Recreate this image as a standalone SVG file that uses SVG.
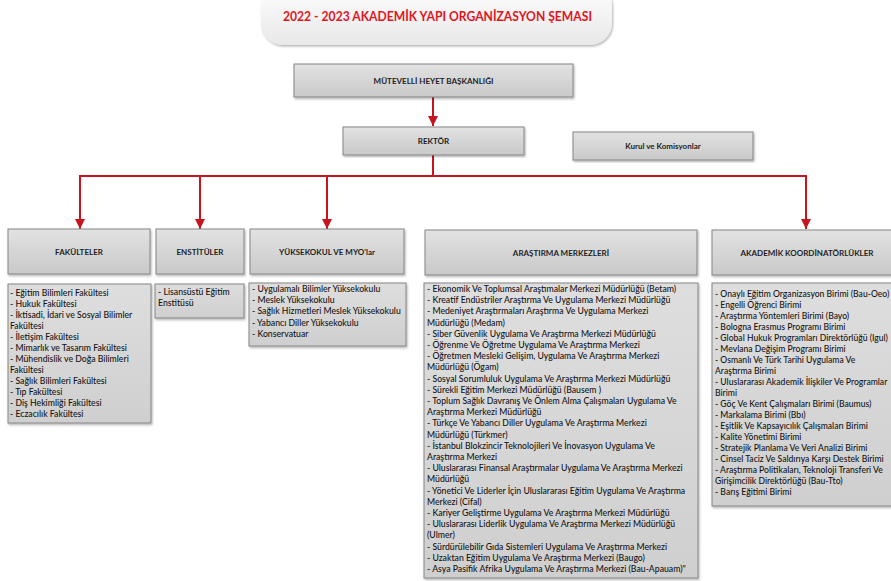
<svg xmlns="http://www.w3.org/2000/svg" width="891" height="581" viewBox="0 0 891 581">
<defs>
<linearGradient id="pill" x1="0" y1="0" x2="0" y2="1"><stop offset="0" stop-color="#ffffff"/><stop offset="1" stop-color="#e8e8e8"/></linearGradient>
<linearGradient id="box" x1="0" y1="0" x2="0" y2="1"><stop offset="0" stop-color="#e2e2e2"/><stop offset="1" stop-color="#c9c9c9"/></linearGradient>
<linearGradient id="list" x1="0" y1="0" x2="0" y2="1"><stop offset="0" stop-color="#dedede"/><stop offset="1" stop-color="#cfcfcf"/></linearGradient>
<filter id="sh" x="-5%" y="-5%" width="110%" height="115%"><feDropShadow dx="1" dy="1.5" stdDeviation="1" flood-color="#000" flood-opacity="0.3"/></filter>
<marker id="ah" viewBox="0 0 10 10" refX="10" refY="5" markerWidth="5" markerHeight="5" orient="auto" markerUnits="strokeWidth"><path d="M0,0 L10,5 L0,10 Z" fill="#c8141e"/></marker>
</defs>
<style>
.b{fill:url(#box);stroke:#858585;stroke-width:1;filter:url(#sh)}
.l{fill:url(#list);stroke:#858585;stroke-width:1;filter:url(#sh)}
.h{font-family:Lato,"Liberation Sans",sans-serif;font-weight:bold;font-size:8px;fill:#1e1e1e;text-anchor:middle}
.t{font-family:Lato,"Liberation Sans",sans-serif;font-weight:500;font-size:8.7px;fill:#141414}
.s{font-size:8.6px}
.c{fill:none;stroke:#c8141e;stroke-width:2}
</style>
<g id="title">
<rect x="261" y="-16" width="351" height="61" rx="22" fill="url(#pill)" filter="url(#sh)"/>
<text x="283" y="21" font-family="Lato,'Liberation Sans',sans-serif" font-weight="bold" font-size="12.8" fill="#e3141e" textLength="309" lengthAdjust="spacingAndGlyphs">2022 - 2023 AKADEMİK YAPI ORGANİZASYON ŞEMASI</text>
</g>
<g id="connectors">
<line class="c" x1="433" y1="97" x2="433" y2="126" marker-end="url(#ah)"/>
<polyline class="c" points="433,155 433,176"/>
<line class="c" x1="79" y1="176" x2="807" y2="176"/>
<line class="c" x1="80" y1="176" x2="80" y2="229" marker-end="url(#ah)"/>
<line class="c" x1="200" y1="176" x2="200" y2="229" marker-end="url(#ah)"/>
<line class="c" x1="327" y1="176" x2="327" y2="229" marker-end="url(#ah)"/>
<line class="c" x1="806" y1="176" x2="806" y2="229" marker-end="url(#ah)"/>
</g>
<g id="mutevelli"><rect class="b" x="294" y="64" width="279" height="33"/><text class="h" x="433.5" y="83.5">MÜTEVELLİ HEYET BAŞKANLIĞI</text></g>
<g id="rektor"><rect class="b" x="343" y="127" width="181" height="28"/><text class="h" x="433.5" y="144">REKTÖR</text></g>
<g id="kurul"><rect class="b" x="573" y="132" width="180" height="28"/><text class="h" x="663" y="149" font-size="8.5">Kurul ve Komisyonlar</text></g>
<g id="fakulteler"><rect class="b" x="8" y="229" width="142" height="45"/><text class="h" x="79" y="254.5">FAKÜLTELER</text></g>
<g id="enstituler"><rect class="b" x="156" y="229" width="88" height="45"/><text class="h" x="200" y="254.5">ENSTİTÜLER</text></g>
<g id="yuksekokul"><rect class="b" x="250" y="229" width="154" height="45"/><text class="h" x="327" y="254.5">YÜKSEKOKUL VE MYO'lar</text></g>
<g id="arastirma"><rect class="b" x="425" y="230" width="272" height="45"/><text class="h" x="561" y="255.5">ARAŞTIRMA MERKEZLERİ</text></g>
<g id="akademik"><rect class="b" x="712" y="230" width="190" height="45"/><text class="h" x="807" y="255.5">AKADEMİK KOORDİNATÖRLÜKLER</text></g>
<g id="fakulteler-list"><rect class="l" x="8" y="284" width="143" height="139"/>
<text class="t" x="10"><tspan x="10" y="296">- Eğitim Bilimleri Fakültesi</tspan><tspan x="10" y="307">- Hukuk Fakültesi</tspan><tspan x="10" y="318">- İktisadi, İdari ve Sosyal   Bilimler</tspan><tspan x="10" y="329">Fakültesi</tspan><tspan x="10" y="340">- İletişim Fakültesi</tspan><tspan x="10" y="351">- Mimarlık ve Tasarım Fakültesi</tspan><tspan x="10" y="362">- Mühendislik ve Doğa Bilimleri</tspan><tspan x="10" y="373">Fakültesi</tspan><tspan x="10" y="384">- Sağlık Bilimleri Fakültesi</tspan><tspan x="10" y="395">- Tıp Fakültesi</tspan><tspan x="10" y="406">- Diş Hekimliği Fakültesi</tspan><tspan x="10" y="417">- Eczacılık Fakültesi</tspan></text></g>
<g id="enstituler-list"><rect class="l" x="155" y="284" width="89" height="34"/>
<text class="t"><tspan x="158" y="295">- Lisansüstü Eğitim</tspan><tspan x="158" y="306">Enstitüsü</tspan></text></g>
<g id="yuksekokul-list"><rect class="l" x="249" y="283" width="157" height="63"/>
<text class="t"><tspan x="252" y="292">- Uygulamalı Bilimler Yüksekokulu</tspan><tspan x="252" y="303">- Meslek Yüksekokulu</tspan><tspan x="252" y="314">- Sağlık Hizmetleri Meslek Yüksekokulu</tspan><tspan x="252" y="325.5">- Yabancı Diller Yüksekokulu</tspan><tspan x="252" y="337">- Konservatuar</tspan></text></g>
<g id="arastirma-list"><rect class="l" x="424" y="283" width="274" height="295"/>
<text class="t"><tspan x="427" y="292">- Ekonomik Ve Toplumsal Araştımalar Merkezi Müdürlüğü (Betam)</tspan><tspan x="427" y="303.2">- Kreatif Endüstriler Araştırma Ve Uygulama Merkezi Müdürlüğü</tspan><tspan x="427" y="314.4">- Medeniyet Araştırmaları Araştırma Ve Uygulama Merkezi</tspan><tspan x="427" y="325.6">Müdürlüğü (Medam)</tspan><tspan x="427" y="336.8">- Siber Güvenlik Uygulama Ve Araştırma Merkezi Müdürlüğü</tspan><tspan x="427" y="348">- Öğrenme Ve Öğretme Uygulama Ve Araştırma Merkezi</tspan><tspan x="427" y="359.2">- Öğretmen Mesleki Gelişim, Uygulama Ve Araştırma Merkezi</tspan><tspan x="427" y="370.4">Müdürlüğü (Ögam)</tspan><tspan x="427" y="381.6">- Sosyal Sorumluluk  Uygulama Ve Araştırma  Merkezi Müdürlüğü</tspan><tspan x="427" y="392.8">- Sürekli Eğitim Merkezi Müdürlüğü (Bausem )</tspan><tspan x="427" y="404">- Toplum Sağlık Davranış Ve Önlem Alma Çalışmaları Uygulama Ve</tspan><tspan x="427" y="415.2">Araştırma Merkezi Müdürlüğü</tspan><tspan x="427" y="426.4">- Türkçe Ve Yabancı Diller Uygulama Ve Araştırma Merkezi</tspan><tspan x="427" y="437.6">Müdürlüğü (Türkmer)</tspan><tspan x="427" y="448.8">- İstanbul Blokzincir Teknolojileri Ve İnovasyon Uygulama Ve</tspan><tspan x="427" y="460">Araştırma Merkezi</tspan><tspan x="427" y="471.2">- Uluslararası Finansal Araştırmalar Uygulama Ve Araştırma Merkezi</tspan><tspan x="427" y="482.4">Müdürlüğü</tspan><tspan x="427" y="493.6">- Yönetici Ve Liderler İçin Uluslararası Eğitim Uygulama Ve Araştırma</tspan><tspan x="427" y="504.8">Merkezi  (Cifal)</tspan><tspan x="427" y="516">- Kariyer Geliştirme  Uygulama Ve Araştırma Merkezi Müdürlüğü</tspan><tspan x="427" y="527.2">- Uluslararası Liderlik Uygulama Ve Araştırma Merkezi Müdürlüğü</tspan><tspan x="427" y="538.4">(Ulmer)</tspan><tspan x="427" y="549.6">- Sürdürülebilir Gıda Sistemleri Uygulama Ve Araştırma Merkezi</tspan><tspan x="427" y="560.8">- Uzaktan Eğitim  Uygulama Ve Araştırma Merkezi (Baugo)</tspan><tspan x="427" y="572">- Asya Pasifik Afrika Uygulama Ve Araştırma Merkezi (Bau-Apauam)"</tspan></text></g>
<g id="akademik-list"><rect class="l" x="712" y="283" width="190" height="223"/>
<text class="t s"><tspan x="715" y="297">- Onaylı Eğitim Organizasyon Birimi (Bau-Oeo)</tspan><tspan x="715" y="308">- Engelli Öğrenci Birimi</tspan><tspan x="715" y="319">- Araştırma Yöntemleri Birimi (Bayo)</tspan><tspan x="715" y="330">- Bologna Erasmus Programı Birimi</tspan><tspan x="715" y="341">- Global Hukuk Programları Direktörlüğü (Igul)</tspan><tspan x="715" y="352">- Mevlana Değişim Programı Birimi</tspan><tspan x="715" y="363">- Osmanlı Ve Türk Tarihi Uygulama Ve</tspan><tspan x="715" y="374">Araştırma Birimi</tspan><tspan x="715" y="385">- Uluslararası Akademik İlişkiler Ve Programlar</tspan><tspan x="715" y="396">Birimi</tspan><tspan x="715" y="407">- Göç Ve Kent Çalışmaları Birimi (Baumus)</tspan><tspan x="715" y="418">- Markalama Birimi (Bbı)</tspan><tspan x="715" y="429">- Eşitlik Ve Kapsayıcılık Çalışmaları Birimi</tspan><tspan x="715" y="440">- Kalite Yönetimi Birimi</tspan><tspan x="715" y="451">- Stratejik Planlama Ve Veri Analizi Birimi</tspan><tspan x="715" y="462">- Cinsel Taciz Ve Saldırıya Karşı Destek Birimi</tspan><tspan x="715" y="473">- Araştırma Politikaları, Teknoloji Transferi Ve</tspan><tspan x="715" y="484">Girişimcilik Direktörlüğü (Bau-Tto)</tspan><tspan x="715" y="495">- Barış Eğitimi Birimi</tspan></text></g>
</svg>
